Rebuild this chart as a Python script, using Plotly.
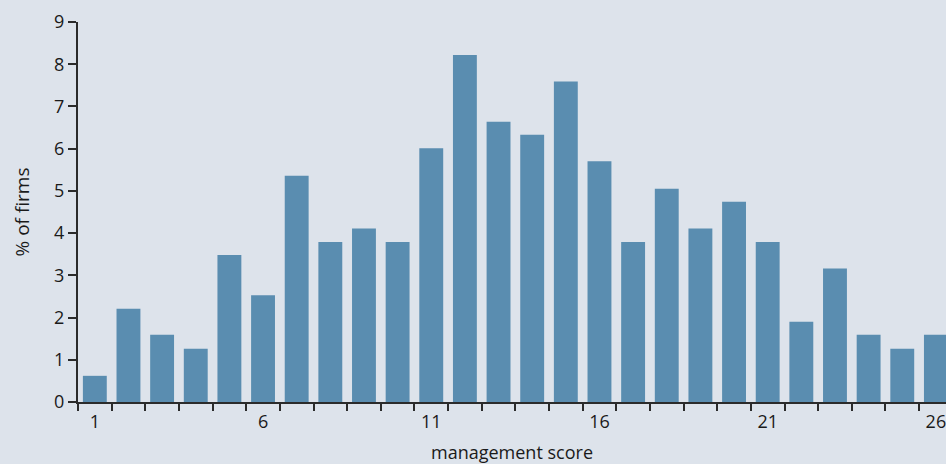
import plotly.graph_objects as go

scores = list(range(1, 27))
pct_firms = [0.62, 2.21, 1.59, 1.26, 3.48, 2.53, 5.36, 3.79, 4.11, 3.79,
             6.01, 8.22, 6.64, 6.33, 7.59, 5.70, 3.79, 5.05, 4.11, 4.74,
             3.79, 1.90, 3.16, 1.59, 1.26, 1.59]
label_ticks = [1, 6, 11, 16, 21, 26]
boundary_ticks = [s - 0.5 for s in scores]
y_ticks = list(range(0, 10))

BG = "#dde3eb"
BAR = "#5a8db0"
AX = "#2b2b2b"
FONT = "Open Sans, Noto Sans, sans-serif"

fig = go.Figure()
fig.add_trace(go.Bar(x=scores, y=pct_firms, marker_color=BAR, marker_line_width=0,
                     showlegend=False, hoverinfo="x+y"))
fig.add_trace(go.Scatter(x=[scores[0]], y=[0], xaxis="x2", mode="markers",
                         marker=dict(opacity=0), showlegend=False, hoverinfo="skip"))

xr = [0.5, 26.3]
fig.update_layout(
    width=946, height=464,
    margin=dict(l=78, r=0, t=22, b=62),
    paper_bgcolor=BG, plot_bgcolor=BG,
    bargap=0.29,
    font=dict(family=FONT, size=18, color="#1a1a1a"),
    xaxis=dict(range=xr, tickvals=label_ticks, ticktext=[str(v) for v in label_ticks],
               tickfont=dict(size=18), ticklabeloverflow="allow",
               ticks="outside", ticklen=2, tickcolor="rgba(0,0,0,0)",
               showline=True, linecolor=AX, linewidth=2, showgrid=False, zeroline=False,
               title=dict(text="management score", standoff=19, font=dict(size=18))),
    xaxis2=dict(range=xr, overlaying="x", anchor="y", side="bottom",
                tickvals=boundary_ticks, ticks="outside", ticklen=8, tickwidth=1.5,
                tickcolor=AX, showticklabels=False, showline=False, showgrid=False,
                zeroline=False),
    yaxis=dict(range=[0, 9], tickvals=y_ticks, tickfont=dict(size=18),
               ticks="outside", ticklen=8, tickwidth=1.5,
               tickcolor=AX, showline=True, linecolor=AX, linewidth=2,
               showgrid=False, zeroline=False,
               title=dict(text="% of firms", standoff=19, font=dict(size=19))),
)

fig.write_html("out.html", config={"displayModeBar": False},
               post_script="document.body.style.margin='0';document.body.style.overflow='hidden';")
